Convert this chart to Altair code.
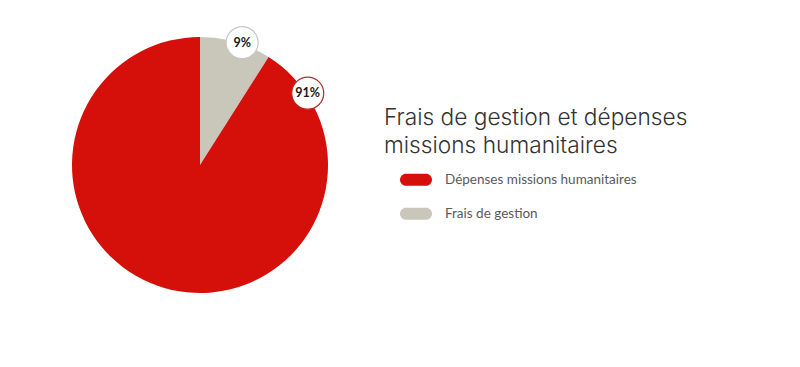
import altair as alt
import pandas as pd
import numpy as np

categories = ["Frais de gestion", "Dépenses missions humanitaires"]
values = [9, 91]
labels = ["9%", "91%"]
label_angles = [19.0, 56.3]  # degrees clockwise from top where bubbles sit
colors = ["#c9c6ba", "#d50f0a"]
bubble_strokes = ["#c8c8c8", "#b82a2a"]

W, H = 384, 314
R = 128
LR = 129.5

df = pd.DataFrame({"cat": categories, "val": values, "order": [0, 1]})
rad = np.deg2rad(label_angles)
lab = pd.DataFrame({
    "cat": categories,
    "label": labels,
    "x": LR * np.sin(rad),
    "y": LR * np.cos(rad),
    "stroke": bubble_strokes,
})

pill = ("M0.375,-0.375 L1.625,-0.375 A0.375,0.375 0 0 1 1.625,0.375 "
        "L0.375,0.375 A0.375,0.375 0 0 1 0.375,-0.375 Z")

pie = alt.Chart(df).mark_arc(outerRadius=R, stroke=None).encode(
    theta=alt.Theta("val:Q", stack=True),
    order=alt.Order("order:Q"),
    color=alt.Color(
        "cat:N",
        scale=alt.Scale(domain=categories, range=colors),
        sort=["Dépenses missions humanitaires", "Frais de gestion"],
        legend=alt.Legend(
            title=["Frais de gestion et dépenses", "missions humanitaires"],
            orient="none",
            legendX=376,
            legendY=99,
            titleFont="Inter",
            titleFontSize=22.7,
            titleFontWeight=300,
            titleColor="#333333",
            titleLineHeight=28,
            titlePadding=6,
            titleLimit=500,
            symbolType=pill,
            symbolSize=1024,
            symbolStrokeWidth=0,
            symbolOpacity=1,
            labelFont="Lato",
            labelFontSize=13.5,
            labelColor="#5a5a5a",
            labelOffset=29,
            labelLimit=400,
            rowPadding=11,
            padding=0,
            values=["Dépenses missions humanitaires", "Frais de gestion"],
        ),
    ),
)

xs = alt.Scale(domain=[-W / 2, W / 2])
ys = alt.Scale(domain=[-H / 2, H / 2])

bubbles = alt.Chart(lab).mark_circle(size=1024, fill="white", opacity=1, strokeWidth=1.2).encode(
    x=alt.X("x:Q", scale=xs, axis=None),
    y=alt.Y("y:Q", scale=ys, axis=None),
    stroke=alt.Stroke("stroke:N", scale=None, legend=None),
)

texts = alt.Chart(lab).mark_text(font="Lato", fontSize=12.5, fontWeight="bold", color="#1a1a1a").encode(
    x=alt.X("x:Q", scale=xs, axis=None),
    y=alt.Y("y:Q", scale=ys, axis=None),
    text="label:N",
)

chart = alt.layer(pie, bubbles, texts).properties(
    width=W, height=H, padding=0
).configure_view(stroke=None)

chart.save("out.html", embed_options={"renderer": "svg", "actions": False})
